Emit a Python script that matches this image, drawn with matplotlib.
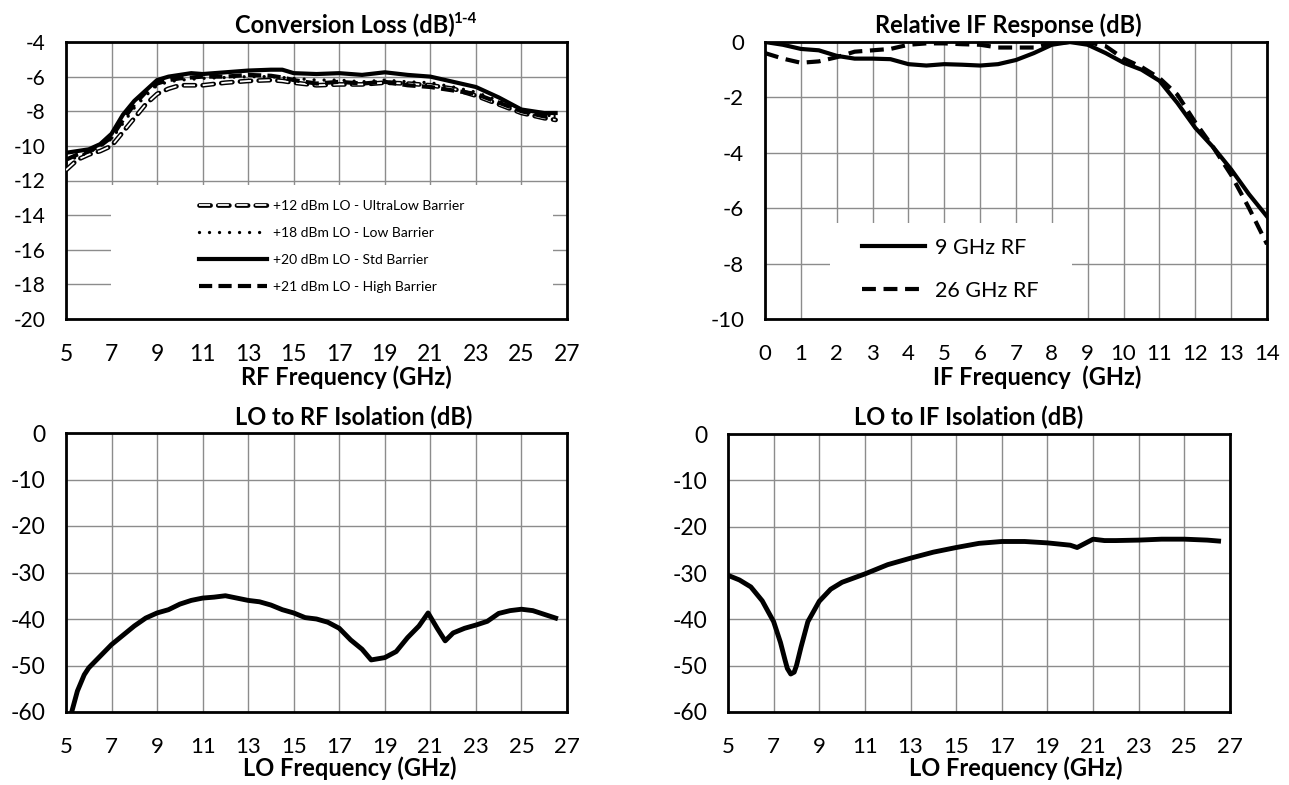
import matplotlib
matplotlib.use("Agg")
import matplotlib.pyplot as plt
import matplotlib.patheffects as pe
from matplotlib.patches import Rectangle

plt.rcParams["font.family"] = ["Lato", "DejaVu Sans"]
plt.rcParams["axes.unicode_minus"] = False
plt.rcParams["lines.scale_dashes"] = False

# ---- conversion loss (RF 5-26.5 GHz)
cl_freq = [5, 5.5, 6, 6.5, 7, 7.5, 8, 8.5, 9, 9.5, 10, 10.5, 11, 12, 13, 14, 14.5,
           15, 16, 17, 18, 19, 20, 21, 22, 23, 24, 25, 26, 26.5]
cl_ultralow = [-11.4, -10.8, -10.5, -10.3, -10.0, -9.2, -8.4, -7.6, -7.0, -6.7, -6.5, -6.5,
               -6.5, -6.35, -6.25, -6.2, -6.25, -6.35, -6.5, -6.45, -6.45, -6.35, -6.4,
               -6.5, -6.7, -7.1, -7.6, -8.1, -8.4, -8.5]
cl_low = [-11.0, -10.6, -10.4, -10.0, -9.6, -8.7, -7.8, -7.1, -6.5, -6.3, -6.2, -6.15,
          -6.1, -6.05, -6.0, -6.0, -6.05, -6.1, -6.2, -6.2, -6.3, -6.2, -6.3,
          -6.35, -6.6, -6.9, -7.4, -8.0, -8.2, -8.3]
cl_std = [-10.4, -10.3, -10.2, -9.9, -9.3, -8.2, -7.4, -6.8, -6.2, -6.0, -5.9, -5.8,
          -5.85, -5.75, -5.65, -5.6, -5.6, -5.8, -5.85, -5.8, -5.9, -5.75, -5.9,
          -6.0, -6.3, -6.6, -7.2, -7.9, -8.1, -8.1]
cl_high = [-10.8, -10.5, -10.3, -10.0, -9.5, -8.5, -7.6, -6.9, -6.4, -6.2, -6.1, -6.05,
           -6.0, -6.0, -5.9, -5.95, -6.05, -6.2, -6.4, -6.3, -6.4, -6.3, -6.5,
           -6.6, -6.8, -7.0, -7.5, -8.0, -8.3, -8.3]
cl_labels = ["+12 dBm LO - UltraLow Barrier", "+18 dBm LO - Low Barrier",
             "+20 dBm LO - Std Barrier", "+21 dBm LO - High Barrier"]

# ---- relative IF response
if_freq = [0, 0.5, 1, 1.5, 2, 2.5, 3, 3.5, 4, 4.5, 5, 5.5, 6, 6.5, 7, 7.5, 8, 8.5,
           9, 9.5, 10, 10.5, 11, 11.5, 12, 12.5, 13, 13.5, 14]
if_9ghz = [0.0, -0.1, -0.25, -0.3, -0.5, -0.6, -0.6, -0.62, -0.8, -0.85, -0.8, -0.82,
           -0.85, -0.8, -0.65, -0.4, -0.1, 0.0, -0.1, -0.4, -0.75, -1.0, -1.4, -2.2,
           -3.1, -3.8, -4.6, -5.5, -6.3]
if_26ghz = [-0.4, -0.6, -0.75, -0.7, -0.55, -0.35, -0.3, -0.25, -0.1, -0.05, -0.05,
            -0.08, -0.1, -0.2, -0.2, -0.2, -0.05, 0.0, 0.0, -0.15, -0.6, -0.9, -1.3,
            -1.9, -2.9, -3.8, -4.8, -6.0, -7.3]
if_labels = ["9 GHz RF", "26 GHz RF"]

# ---- LO to RF isolation
lr_freq = [5.25, 5.5, 5.8, 6, 6.5, 7, 7.5, 8, 8.5, 9, 9.5, 10, 10.5, 11, 11.5, 12,
           12.5, 13, 13.5, 14, 14.5, 15, 15.5, 16, 16.5, 17, 17.5, 18, 18.4, 19,
           19.5, 20, 20.5, 20.9, 21.3, 21.65, 22, 22.5, 23, 23.5, 24, 24.5, 25,
           25.5, 26, 26.5]
lr_iso = [-60, -55.5, -52, -50.5, -48, -45.5, -43.5, -41.5, -39.8, -38.7, -38, -36.8,
          -36, -35.5, -35.3, -35, -35.5, -36, -36.3, -37, -38, -38.7, -39.7, -40,
          -40.7, -42, -44.5, -46.5, -48.8, -48.3, -47, -44, -41.5, -38.7, -42,
          -44.7, -43, -42, -41.3, -40.5, -38.8, -38.2, -37.9, -38.2, -39, -39.8]

# ---- LO to IF isolation
li_freq = [5, 5.5, 6, 6.5, 7, 7.3, 7.5, 7.6, 7.75, 7.9, 8, 8.2, 8.5, 9, 9.5, 10, 11,
           12, 13, 14, 15, 16, 17, 18, 19, 20, 20.3, 21, 21.5, 22, 23, 24, 25, 26, 26.5]
li_iso = [-30.5, -31.5, -33, -36, -40.5, -45, -48.8, -50.6, -51.8, -51.4, -50, -46,
          -40.5, -36.1, -33.5, -32, -30.2, -28.2, -26.8, -25.5, -24.5, -23.6, -23.2,
          -23.2, -23.5, -24, -24.5, -22.7, -23.0, -23.0, -22.9, -22.7, -22.7, -22.9, -23.1]

W, H = 1289, 785
fig = plt.figure(figsize=(W / 100, H / 100), dpi=100)


def add_panel(left, top, right, bottom, xticks, yticks, xfs, yfs):
    ax = fig.add_axes([left / W, 1 - bottom / H, (right - left) / W, (bottom - top) / H])
    ax.set_xlim(xticks[0], xticks[-1])
    ax.set_ylim(yticks[0], yticks[-1])
    ax.set_xticks(xticks)
    ax.set_yticks(yticks)
    ax.grid(True, color="#8c8c8c", linewidth=1.0, zorder=0)
    ax.set_axisbelow(True)
    ax.tick_params(axis="x", length=0, pad=18, labelsize=xfs)
    ax.tick_params(axis="y", length=0, pad=15, labelsize=yfs)
    for s in ax.spines.values():
        s.set_linewidth(2.0)
        s.set_color("black")
    return ax


def ftext(x, y, s, size=17, ha="center"):
    fig.text(x / W, 1 - y / H, s, fontsize=size, fontweight="bold",
             ha=ha, va="center")


# conversion loss
ax1 = add_panel(66, 42, 567, 319, list(range(5, 28, 2)), list(range(-20, -3, 2)), 16.5, 15)
ax1.add_patch(Rectangle((6.98, -20), 26.38 - 6.98, 20 - 12.26, facecolor="white",
                        edgecolor="none", zorder=1))
ax1.plot(cl_freq, cl_ultralow, color="white", lw=1.3, dashes=(8, 5.5), zorder=3,
         label=cl_labels[0],
         path_effects=[pe.Stroke(linewidth=3.4, foreground="black", capstyle="round"),
                       pe.Normal()])
ax1.plot(cl_freq, cl_low, color="black", lw=2.4, dashes=(0.01, 7.2),
         dash_capstyle="round", zorder=3, label=cl_labels[1])
ax1.plot(cl_freq, cl_std, color="black", lw=3.0, zorder=3, label=cl_labels[2])
ax1.plot(cl_freq, cl_high, color="black", lw=3.0, dashes=(9.5, 4.5), zorder=3,
         label=cl_labels[3])
ax1.legend(loc="center left", bbox_to_anchor=(0.265, 0.262), frameon=False,
           fontsize=10, handlelength=4.9, handletextpad=0.42, labelspacing=1.08,
           borderpad=0, borderaxespad=0)
ftext(455, 25, "Conversion Loss (dB)", ha="right")
fig.text(453 / W, 1 - 19 / H, "1-4", fontsize=11, fontweight="bold", ha="left", va="center")
ftext(346, 377, "RF Frequency (GHz)")

# relative IF response
ax2 = add_panel(765, 42, 1267, 319, list(range(0, 15)), list(range(-10, 1, 2)), 16, 16)
ax2.add_patch(Rectangle((1.82, -10), 8.55 - 1.82, 10 - 6.54, facecolor="white",
                        edgecolor="none", zorder=1))
ax2.plot(if_freq, if_9ghz, color="black", lw=3.0, zorder=3, label=if_labels[0])
ax2.plot(if_freq, if_26ghz, color="black", lw=3.0, dashes=(10, 5.5), zorder=3,
         label=if_labels[1])
ax2.legend(loc="center left", bbox_to_anchor=(0.193, 0.18), frameon=False,
           fontsize=15.5, handlelength=2.95, handletextpad=0.43, labelspacing=1.08,
           borderpad=0, borderaxespad=0)
ftext(1008, 25, "Relative IF Response (dB)")
ftext(1037, 377, "IF Frequency  (GHz)")

# LO to RF isolation
ax3 = add_panel(66, 433, 567, 712, list(range(5, 28, 2)), list(range(-60, 1, 10)), 16, 16.5)
ax3.plot(lr_freq, lr_iso, color="black", lw=3.5, zorder=3, solid_joinstyle="round")
ftext(354, 417, "LO to RF Isolation (dB)")
ftext(350, 768, "LO Frequency (GHz)")

# LO to IF isolation
ax4 = add_panel(728, 434, 1230, 712, list(range(5, 28, 2)), list(range(-60, 1, 10)), 16, 16.5)
ax4.plot(li_freq, li_iso, color="black", lw=3.5, zorder=3, solid_joinstyle="round")
ftext(969, 417, "LO to IF Isolation (dB)")
ftext(1016, 768, "LO Frequency (GHz)")

fig.savefig("out.png", dpi=100)
